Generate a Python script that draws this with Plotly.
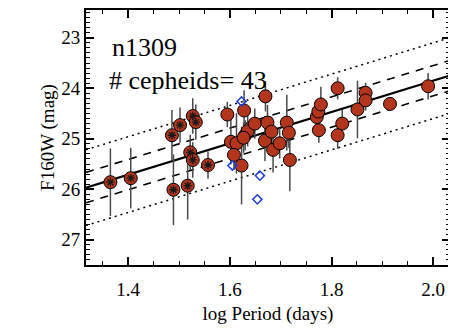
import numpy as np
import plotly.graph_objects as go

# --- data ---
# Cepheids flagged with a cross inside the marker
logp_x = [1.365, 1.405, 1.489, 1.517, 1.486, 1.502, 1.527, 1.533, 1.522, 1.527, 1.557]
mag_x = [25.86, 25.78, 26.01, 25.93, 24.93, 24.73, 24.55, 24.67, 25.27, 25.42, 25.52]
err_x = [0.67, 0.60, 0.70, 0.67, 0.50, 0.35, 0.35, 0.35, 0.35, 0.35, 0.27]

# Remaining cepheids
logp = [1.595, 1.628, 1.670, 1.602, 1.613, 1.608, 1.623, 1.630, 1.635, 1.649,
        1.674, 1.669, 1.685, 1.682, 1.698, 1.712, 1.716, 1.718, 1.771, 1.774,
        1.779, 1.775, 1.812, 1.821, 1.812, 1.851, 1.867, 1.867, 1.915, 1.990,
        1.627]
mag = [24.52, 24.44, 24.16, 25.06, 25.09, 25.32, 25.53, 24.93, 24.85, 24.70,
       24.68, 25.04, 25.22, 24.86, 25.09, 24.68, 24.88, 25.42, 24.57, 24.46,
       24.32, 24.83, 24.00, 24.70, 24.93, 24.42, 24.09, 24.24, 24.31, 23.96,
       24.98]
err = [0.25, 0.40, 0.30, 0.45, 0.60, 0.30, 0.77, 0.30, 0.30, 0.30,
       0.35, 0.40, 0.45, 0.30, 0.30, 0.55, 0.30, 0.62, 0.25, 0.25,
       0.35, 0.25, 0.22, 0.27, 0.27, 0.57, 0.20, 0.20, 0.05, 0.26,
       0.30]

# Rejected points (blue open diamonds)
logp_rej = [1.623, 1.605, 1.659, 1.654]
mag_rej = [24.26, 25.53, 25.73, 26.20]

# Fit: mag = zp + slope * (logP - 1.5); envelopes
fit_slope = -3.10
fit_zp = 25.40
dash_off = 0.30
dot_off = 0.75

x_range = [1.317, 2.033]
y_range = [27.5, 22.45]
galaxy = "n1309"
n_ceph = 43

# --- figure ---
fig = go.Figure()
xl = np.array(x_range)
yl = fit_zp + fit_slope * (xl - 1.5)

for off in (-dot_off, dot_off):
    fig.add_trace(go.Scatter(x=xl, y=yl + off, mode="lines",
                             line=dict(color="black", width=1.5, dash="2px,4px"),
                             hoverinfo="skip"))
for off in (-dash_off, dash_off):
    fig.add_trace(go.Scatter(x=xl, y=yl + off, mode="lines",
                             line=dict(color="black", width=1.6, dash="8px,7px"),
                             hoverinfo="skip"))
fig.add_trace(go.Scatter(x=xl, y=yl, mode="lines",
                         line=dict(color="black", width=2.2), hoverinfo="skip"))

red = "#B3361C"
for xs, ys, es in ((logp_x, mag_x, err_x), (logp, mag, err)):
    fig.add_trace(go.Scatter(
        x=xs, y=ys, mode="markers",
        marker=dict(size=13, color=red, line=dict(color="black", width=1)),
        error_y=dict(type="data", array=es, visible=True, color="#4a4a4a",
                     thickness=1.5, width=0)))

fig.add_trace(go.Scatter(x=logp_x, y=mag_x, mode="markers",
                         marker=dict(symbol="asterisk", size=7,
                                     line=dict(color="#1a1a1a", width=1.3))))

fig.add_trace(go.Scatter(x=logp_rej, y=mag_rej, mode="markers",
                         marker=dict(symbol="diamond-open", size=7,
                                     color="#1f3fe0", line=dict(width=1.5))))

font = "Liberation Serif"
fig.add_annotation(x=0.066, y=0.853, xref="paper", yref="paper", text=galaxy,
                   showarrow=False, xanchor="left", yanchor="middle",
                   font=dict(family=font, size=26, color="black"))
fig.add_annotation(x=0.058, y=0.725, xref="paper", yref="paper",
                   text=f"# cepheids= {n_ceph}",
                   showarrow=False, xanchor="left", yanchor="middle",
                   font=dict(family=font, size=26, color="black"))

axis_common = dict(showline=True, linecolor="black", linewidth=2, mirror="ticks",
                   ticks="inside", tickcolor="black", tickwidth=1.5, ticklen=8,
                   showgrid=False, zeroline=False,
                   tickfont=dict(family=font, size=19, color="black"))

fig.update_xaxes(range=x_range, tickmode="array", tickvals=[1.4, 1.6, 1.8, 2.0],
                 ticktext=["1.4", "1.6", "1.8", "2.0"], ticklabelstandoff=6,
                 minor=dict(dtick=0.05, tick0=1.4, ticks="inside", ticklen=4,
                            tickcolor="black", tickwidth=1.2),
                 title=dict(text="log Period (days)", standoff=8,
                            font=dict(family=font, size=19, color="black")),
                 **axis_common)
fig.update_yaxes(range=y_range, tickmode="array", tickvals=[23, 24, 25, 26, 27],
                 minor=dict(dtick=0.1, tick0=23, ticks="inside", ticklen=4,
                            tickcolor="black", tickwidth=1.2),
                 title=dict(text="F160W (mag)", standoff=2,
                            font=dict(family=font, size=19, color="black")),
                 **axis_common)

fig.update_layout(width=448, height=321, showlegend=False,
                  margin=dict(l=78, r=6, t=0, b=64),
                  plot_bgcolor="white", paper_bgcolor="white")

fig.write_html("out.html")
